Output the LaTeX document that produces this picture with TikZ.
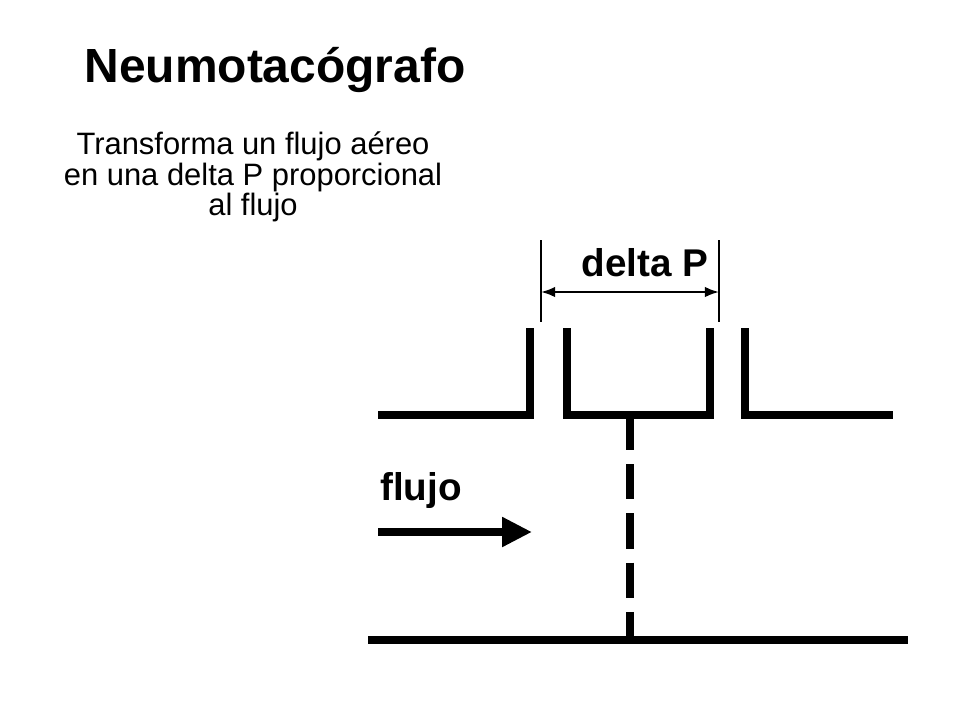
\documentclass[tikz,border=0pt]{standalone}
\usepackage{fontspec}
\setmainfont{Liberation Sans}
\usetikzlibrary{arrows.meta}
\begin{document}
\begin{tikzpicture}[
	x=0.02cm, y=-0.02cm,
	pipe/.style={line width=4.6pt},
	mark line/.style={line width=1.2pt},
	lbl/.style={font=\bfseries\fontsize{22}{26}\selectfont}
]
\useasboundingbox (0,0) rectangle (960,720);

% Titles
\node (title) at (275,70) {\bfseries\fontsize{27.3}{32}\selectfont Neumotacógrafo};
\node[align=center, font=\fontsize{17.6}{14.6}\selectfont] (sub) at (253,177)
	{Transforma un flujo aéreo\\en una delta P proporcional\\al flujo};

% Tube walls
\coordinate (l0) at (378,415); \coordinate (l1) at (530,415); \coordinate (l2) at (530,328);
\coordinate (m0) at (567,328); \coordinate (m1) at (567,415);
\coordinate (m2) at (710,415); \coordinate (m3) at (710,328);
\coordinate (r0) at (745,328); \coordinate (r1) at (745,415); \coordinate (r2) at (893,415);
\coordinate (b0) at (368,640); \coordinate (b1) at (908,640);
\coordinate (d0) at (630,415); \coordinate (d1) at (630,640);
\draw[pipe] (l0) -- (l1) -- (l2);
\draw[pipe] (m0) -- (m1) -- (m2) -- (m3);
\draw[pipe] (r0) -- (r1) -- (r2);
\draw[pipe] (b0) -- (b1);
\draw[pipe, dash pattern=on 20pt off 8pt] (d0) -- (d1);

% delta P
\coordinate (p0) at (541,240); \coordinate (p1) at (541,322);
\coordinate (q0) at (719,240); \coordinate (q1) at (719,322);
\draw[mark line] (p0) -- (p1);
\draw[mark line] (q0) -- (q1);
\coordinate (a0) at (541,292); \coordinate (a1) at (719,292);
\draw[mark line, {Latex[length=8pt,width=6pt]}-{Latex[length=8pt,width=6pt]}] (a0) -- (a1);
\node[lbl] (dp) at (645,263) {delta P};

% flujo
\node[lbl] (fl) at (421,490) {flujo};
\coordinate (f0) at (378,532); \coordinate (f1) at (532,532);
\draw[pipe, -{Triangle[length=17pt,width=16pt]}] (f0) -- (f1);
\end{tikzpicture}
\end{document}
